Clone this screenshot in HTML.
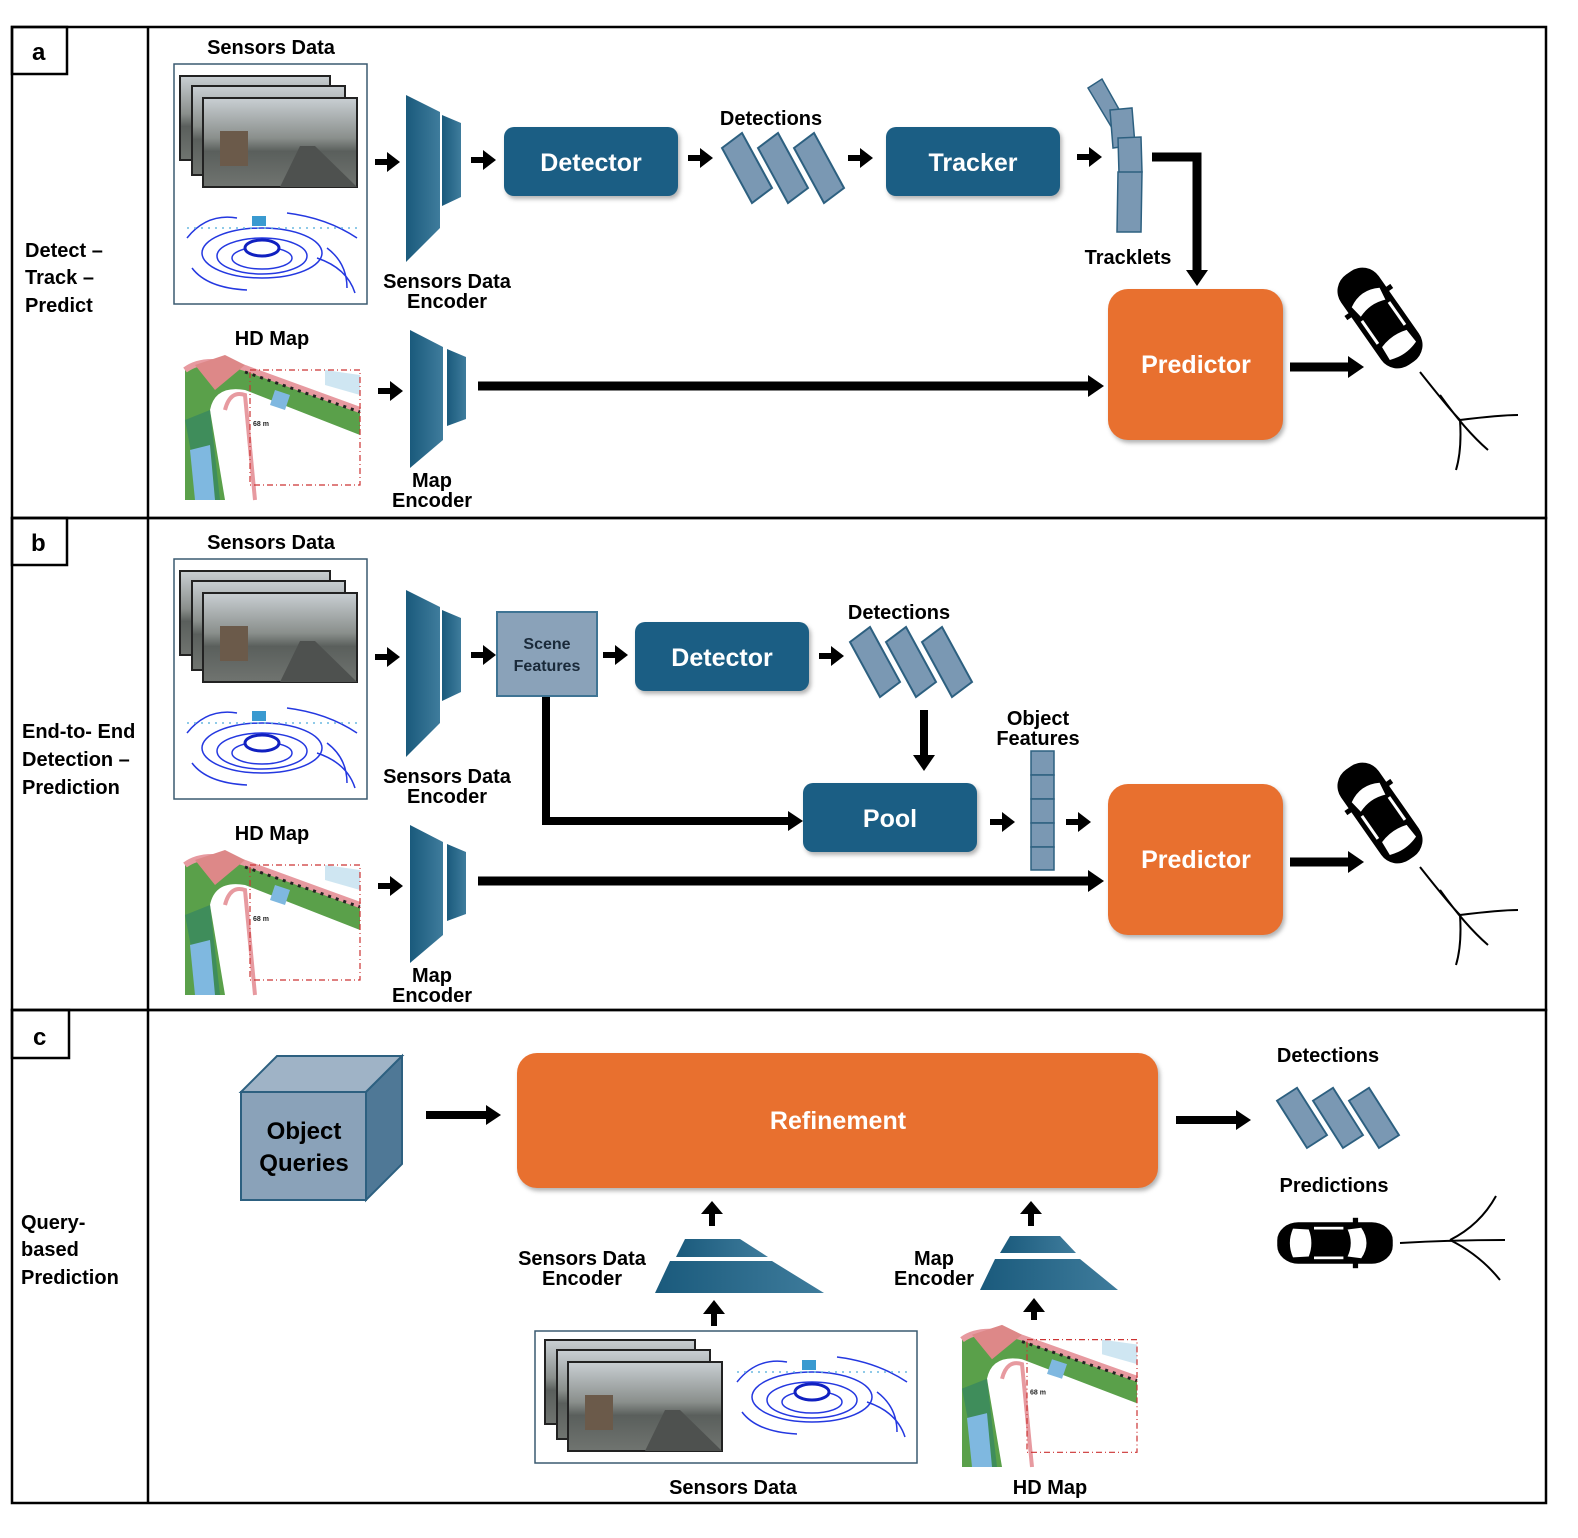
<!DOCTYPE html>
<html><head><meta charset="utf-8"><style>
html,body{margin:0;padding:0;background:#fff;overflow:hidden;width:1578px;height:1538px}
svg{display:block}
text{font-family:"Liberation Sans",sans-serif;font-weight:bold}
</style></head><body>
<svg width="1578" height="1538" viewBox="0 0 1578 1538" xmlns="http://www.w3.org/2000/svg">
<defs>
<linearGradient id="enc" x1="0" x2="1" y1="0" y2="0"><stop offset="0" stop-color="#1a5a7c"/><stop offset="1" stop-color="#3f7c9c"/></linearGradient>
<linearGradient id="cam" x1="0" x2="0" y1="0" y2="1"><stop offset="0" stop-color="#c9cfd3"/><stop offset="0.45" stop-color="#8a8f8c"/><stop offset="0.6" stop-color="#5a5f5c"/><stop offset="1" stop-color="#707470"/></linearGradient>
<g id="sarrow"><rect x="0" y="-3" width="14" height="6" fill="#000"/><path d="M12,-10 L25,0 L12,10z" fill="#000"/></g>
<g id="cams">
<rect x="0" y="0" width="150" height="84" fill="url(#cam)" stroke="#222" stroke-width="2"/>
<rect x="12" y="10" width="153" height="89" fill="url(#cam)" stroke="#222" stroke-width="2"/>
<rect x="23" y="22" width="154" height="89" fill="url(#cam)" stroke="#222" stroke-width="2"/>
<rect x="40" y="55" width="28" height="35" fill="#6b5a4a"/>
<path d="M100,111 L120,70 L135,70 L177,111z" fill="#4e514f"/>
</g>
<g id="lidar" fill="none" stroke="#2438e0" stroke-width="1.5">
<ellipse cx="75" cy="45" rx="60" ry="25"/><ellipse cx="75" cy="48" rx="45" ry="18"/><ellipse cx="75" cy="50" rx="30" ry="11"/>
<ellipse cx="75" cy="40" rx="17" ry="8" fill="#fff" stroke="#1020c0" stroke-width="3"/>
<path d="M0,30 Q20,5 50,10 M100,5 Q140,10 170,30 M130,50 Q160,60 168,85 M140,40 Q160,55 160,80 M5,60 Q20,80 60,82" />
<rect x="65" y="8" width="14" height="10" fill="#3a9ad0" stroke="none"/>
<path d="M0,20 L170,20" stroke="#6ab8e0" stroke-dasharray="2 5"/>
</g>
<g id="map">
<rect x="0" y="0" width="175" height="150" fill="#fff"/>
<path d="M0,20 Q20,5 60,18 L175,60 L175,85 L60,40 Q30,35 25,60 L40,150 L0,150z" fill="#5aa04a"/>
<path d="M0,20 Q20,5 60,18 L175,60" fill="none" stroke="#e79aa0" stroke-width="6"/>
<path d="M10,15 L40,5 L60,15 L30,40z" fill="#d88"/>
<path d="M0,70 L25,60 L35,150 L15,150z" fill="#3f8d5b"/>
<path d="M5,100 L25,95 L30,150 L10,150z" fill="#7fb8e0"/>
<path d="M60,22 L175,62" stroke="#222" stroke-width="3" stroke-dasharray="3 5"/>
<path d="M90,40 L105,45 L100,60 L85,55z" fill="#7fb8e0"/>
<path d="M140,20 L175,25 L175,45 L140,35z" fill="#cfe6f2"/>
<path d="M40,60 Q45,40 60,45 L70,150" fill="none" stroke="#e79aa0" stroke-width="4"/>
<path d="M65,20 L175,20 L175,135 L65,135 z" fill="none" stroke="#c33" stroke-width="1.2" stroke-dasharray="6 3 1 3"/>
<text x="68" y="76" font-size="7" font-weight="normal" fill="#222">68 m</text>
</g>
<g id="car">
<rect x="-23" y="-55" width="46" height="110" rx="20" fill="#000"/>
<path d="M-17,-25 Q0,-35 17,-25 L15,-12 Q0,-18 -15,-12z" fill="#fff"/>
<path d="M-15,25 Q0,20 15,25 L16,40 Q0,46 -16,40z" fill="#fff"/>
<rect x="-18" y="-8" width="3" height="28" fill="#fff"/><rect x="15" y="-8" width="3" height="28" fill="#fff"/>
<rect x="-28" y="-22" width="6" height="5" fill="#000"/><rect x="22" y="-22" width="6" height="5" fill="#000"/>
</g>
<g id="det" fill="#7a98b3" stroke="#2d6080" stroke-width="2">
<path d="M0,15 L20,0 L50,55 L30,70z"/><path d="M36,15 L56,0 L86,55 L66,70z"/><path d="M72,15 L92,0 L122,55 L102,70z"/>
</g>
</defs>

<g fill="none" stroke="#000" stroke-width="2.5">
<rect x="12" y="27" width="1534" height="491"/>
<rect x="12" y="518" width="1534" height="492"/>
<rect x="12" y="1010" width="1534" height="493"/>
<line x1="148" y1="27" x2="148" y2="1503"/>
<rect x="12" y="27" width="55" height="47"/>
<rect x="12" y="518" width="55" height="47"/>
<rect x="12" y="1010" width="57" height="48"/>
</g>
<text x="32" y="60" font-size="24">a</text>
<text x="31" y="551" font-size="24">b</text>
<text x="33" y="1045" font-size="24">c</text>

<text font-size="20"><tspan x="25" y="257">Detect –</tspan><tspan x="25" y="284">Track –</tspan><tspan x="25" y="312">Predict</tspan></text>
<text font-size="20"><tspan x="22" y="738">End-to- End</tspan><tspan x="22" y="766">Detection –</tspan><tspan x="22" y="794">Prediction</tspan></text>
<text font-size="20"><tspan x="21" y="1229">Query-</tspan><tspan x="21" y="1256">based</tspan><tspan x="21" y="1284">Prediction</tspan></text>

<g id="pa">
<text x="271" y="54" font-size="20" text-anchor="middle">Sensors Data</text>
<rect x="174" y="64" width="193" height="240" fill="#fff" stroke="#3a5a70" stroke-width="1.5"/>
<use href="#cams" x="180" y="76"/>
<use href="#lidar" x="187" y="208"/>
<polygon points="406,95 440,112 440,228 406,262" fill="url(#enc)"/>
<polygon points="442,115 461,123 461,197 442,206" fill="url(#enc)"/>
<text font-size="20" text-anchor="middle"><tspan x="447" y="288">Sensors Data</tspan><tspan x="447" y="308">Encoder</tspan></text>
<use href="#sarrow" x="375" y="162"/>
<use href="#sarrow" x="471" y="160"/>
<text x="272" y="345" font-size="20" text-anchor="middle">HD Map</text>
<use href="#map" x="185" y="350"/>
<polygon points="410,330 443,347 443,440 410,468" fill="url(#enc)"/>
<polygon points="447,349 466,357 466,419 447,426" fill="url(#enc)"/>
<text font-size="20" text-anchor="middle"><tspan x="432" y="487">Map</tspan><tspan x="432" y="507">Encoder</tspan></text>
<use href="#sarrow" x="378" y="391"/>
<line x1="478" y1="386" x2="1090" y2="386" stroke="#000" stroke-width="9"/>
<path d="M1088,375 L1104,386 L1088,397z"/>
<rect x="1108" y="289" width="175" height="151" rx="20" fill="#e8702f" style="filter:drop-shadow(2px 3px 2px rgba(0,0,0,.3))"/>
<text x="1196" y="373" font-size="25" fill="#fff" text-anchor="middle">Predictor</text>
<line x1="1290" y1="367" x2="1350" y2="367" stroke="#000" stroke-width="9"/>
<path d="M1348,356 L1364,367 L1348,378z"/>
<use href="#car" transform="translate(1380,318) rotate(-35)"/>
<path d="M1420,372 Q1450,410 1460,420 Q1500,415 1518,415 M1440,395 Q1465,430 1488,450 M1460,420 Q1462,450 1456,470" fill="none" stroke="#000" stroke-width="2"/>
</g>
<use href="#pa" y="495"/>

<rect x="504" y="127" width="174" height="69" rx="10" fill="#1b5e84" style="filter:drop-shadow(2px 3px 2px rgba(0,0,0,.3))"/>
<text x="591" y="171" font-size="25" fill="#fff" text-anchor="middle">Detector</text>
<use href="#sarrow" x="688" y="158"/>
<text x="771" y="125" font-size="20" text-anchor="middle">Detections</text>
<use href="#det" x="722" y="133"/>
<use href="#sarrow" x="848" y="158"/>
<rect x="886" y="127" width="174" height="69" rx="10" fill="#1b5e84" style="filter:drop-shadow(2px 3px 2px rgba(0,0,0,.3))"/>
<text x="973" y="171" font-size="25" fill="#fff" text-anchor="middle">Tracker</text>
<use href="#sarrow" x="1077" y="157"/>
<g fill="#7a98b3" stroke="#2d6080" stroke-width="1.5">
<polygon points="1088,88 1102,79 1125,120 1112,128"/>
<polygon points="1110,110 1132,108 1135,145 1113,148"/>
<polygon points="1118,138 1141,137 1142,172 1119,174"/>
<polygon points="1118,172 1142,172 1141,232 1117,232"/>
</g>
<text x="1128" y="264" font-size="20" text-anchor="middle">Tracklets</text>
<path d="M1152,157 L1197,157 L1197,272" fill="none" stroke="#000" stroke-width="9"/>
<path d="M1186,270 L1197,286 L1208,270z"/>

<rect x="497" y="612" width="100" height="84" fill="#8aa2b9" stroke="#3f7494" stroke-width="2"/>
<text font-size="16" text-anchor="middle" fill="#1a2a3a"><tspan x="547" y="649">Scene</tspan><tspan x="547" y="671">Features</tspan></text>
<use href="#sarrow" x="603" y="655"/>
<rect x="635" y="622" width="174" height="69" rx="10" fill="#1b5e84" style="filter:drop-shadow(2px 3px 2px rgba(0,0,0,.3))"/>
<text x="722" y="666" font-size="25" fill="#fff" text-anchor="middle">Detector</text>
<use href="#sarrow" x="819" y="656"/>
<text x="899" y="619" font-size="20" text-anchor="middle">Detections</text>
<use href="#det" x="850" y="627"/>
<line x1="924" y1="710" x2="924" y2="757" stroke="#000" stroke-width="8"/>
<path d="M913,755 L924,771 L935,755z"/>
<rect x="803" y="783" width="174" height="69" rx="10" fill="#1b5e84" style="filter:drop-shadow(2px 3px 2px rgba(0,0,0,.3))"/>
<text x="890" y="827" font-size="25" fill="#fff" text-anchor="middle">Pool</text>
<path d="M546,697 L546,821 L790,821" fill="none" stroke="#000" stroke-width="8"/>
<path d="M788,811 L803,821 L788,831z"/>
<use href="#sarrow" x="990" y="822"/>
<use href="#sarrow" x="1066" y="822"/>
<text font-size="20" text-anchor="middle"><tspan x="1038" y="725">Object</tspan><tspan x="1038" y="745">Features</tspan></text>
<g fill="#7a98b3" stroke="#2d6080" stroke-width="1.5">
<rect x="1031" y="751" width="23" height="24"/><rect x="1031" y="775" width="23" height="24"/><rect x="1031" y="799" width="23" height="24"/><rect x="1031" y="823" width="23" height="24"/><rect x="1031" y="847" width="23" height="23"/>
</g>

<polygon points="241,1092 277,1056 402,1056 366,1092" fill="#9fb3c6" stroke="#2d6080" stroke-width="2"/>
<polygon points="366,1092 402,1056 402,1164 366,1200" fill="#4f7896" stroke="#2d6080" stroke-width="2"/>
<rect x="241" y="1092" width="125" height="108" fill="#8aa2b9" stroke="#2d6080" stroke-width="2"/>
<text font-size="24" text-anchor="middle"><tspan x="304" y="1139">Object</tspan><tspan x="304" y="1171">Queries</tspan></text>
<line x1="426" y1="1115" x2="488" y2="1115" stroke="#000" stroke-width="8"/>
<path d="M486,1105 L501,1115 L486,1125z"/>
<rect x="517" y="1053" width="641" height="135" rx="20" fill="#e8702f" style="filter:drop-shadow(2px 3px 2px rgba(0,0,0,.3))"/>
<text x="838" y="1129" font-size="25" fill="#fff" text-anchor="middle">Refinement</text>
<line x1="1176" y1="1120" x2="1238" y2="1120" stroke="#000" stroke-width="8"/>
<path d="M1236,1110 L1251,1120 L1236,1130z"/>
<text x="1328" y="1062" font-size="20" text-anchor="middle">Detections</text>
<use href="#det" transform="translate(1277,1148) scale(1,0.86) translate(0,-70)"/>
<text x="1334" y="1192" font-size="20" text-anchor="middle">Predictions</text>
<use href="#car" transform="translate(1335,1243) rotate(90) scale(0.9,1.05)"/>
<path d="M1400,1243 Q1450,1240 1505,1240 M1450,1240 Q1480,1225 1496,1196 M1450,1240 Q1480,1255 1500,1280" fill="none" stroke="#000" stroke-width="2"/>
<g fill="#000">
<rect x="709" y="1212" width="6" height="14"/><path d="M701,1214 L712,1201 L723,1214z"/>
<rect x="1028" y="1212" width="6" height="14"/><path d="M1020,1214 L1031,1201 L1042,1214z"/>
<rect x="711" y="1312" width="6" height="14"/><path d="M703,1314 L714,1300 L725,1314z"/>
<rect x="1031" y="1310" width="6" height="14"/><path d="M1023,1312 L1034,1298 L1045,1312z"/>
</g>
<polygon points="685,1239 740,1239 768,1257 676,1257" fill="url(#enc)"/>
<polygon points="670,1261 772,1261 824,1293 655,1293" fill="url(#enc)"/>
<polygon points="1010,1236 1060,1236 1076,1253 1000,1253" fill="url(#enc)"/>
<polygon points="995,1259 1080,1259 1118,1290 980,1290" fill="url(#enc)"/>
<text font-size="20" text-anchor="middle"><tspan x="582" y="1265">Sensors Data</tspan><tspan x="582" y="1285">Encoder</tspan></text>
<text font-size="20" text-anchor="middle"><tspan x="934" y="1265">Map</tspan><tspan x="934" y="1285">Encoder</tspan></text>
<rect x="535" y="1331" width="382" height="132" fill="#fff" stroke="#3a5a70" stroke-width="1.5"/>
<use href="#cams" x="545" y="1340"/>
<use href="#lidar" x="737" y="1352"/>
<use href="#map" transform="translate(962,1320) scale(1,0.98)"/>
<text x="733" y="1494" font-size="20" text-anchor="middle">Sensors Data</text>
<text x="1050" y="1494" font-size="20" text-anchor="middle">HD Map</text>
</svg>
</body></html>
